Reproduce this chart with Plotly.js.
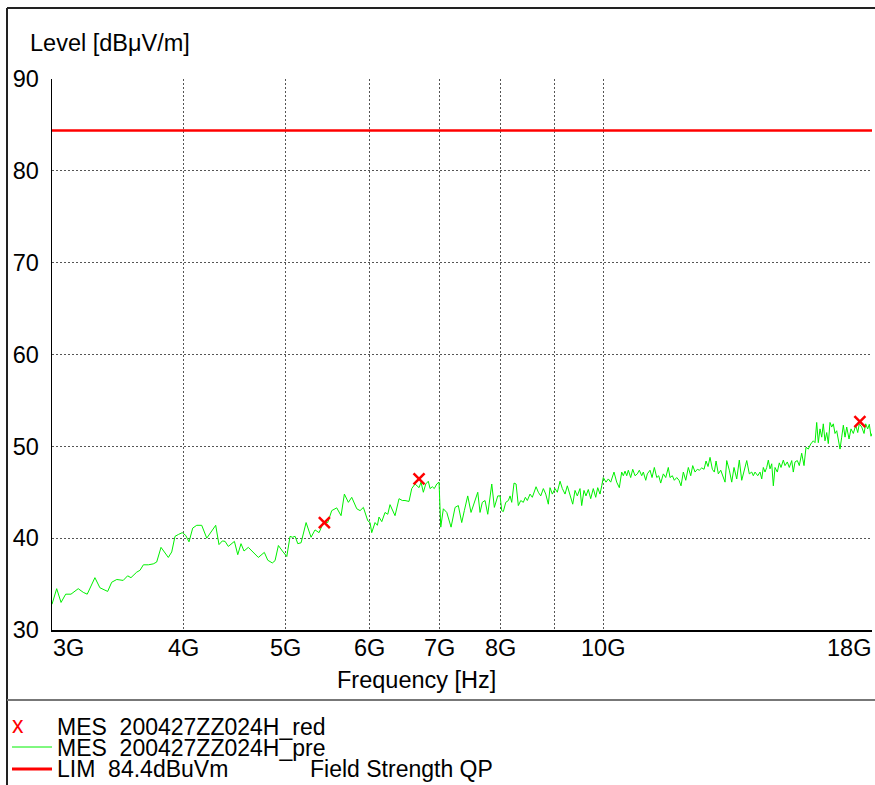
<!DOCTYPE html>
<html>
<head>
<meta charset="utf-8">
<script src="https://cdn.plot.ly/plotly-3.0.1.min.js"></script>
<style>html,body{margin:0;padding:0;background:#fff;}#chart{width:875px;height:785px;}</style>
</head>
<body>
<div id="chart"></div>
<script>
// ---- data (frequency in GHz, level in dBµV/m) ----
const preFreq = [3.000,3.031,3.060,3.091,3.127,3.177,3.212,3.240,3.295,3.331,3.388,3.418,3.456,3.505,3.539,3.565,3.610,3.636,3.663,3.703,3.743,3.771,3.807,3.868,3.897,3.925,3.954,3.988,4.018,4.047,4.080,4.116,4.161,4.207,4.290,4.321,4.353,4.379,4.410,4.469,4.502,4.534,4.564,4.607,4.709,4.771,4.807,4.855,4.884,4.920,4.963,5.011,5.047,5.073,5.103,5.133,5.170,5.196,5.227,5.284,5.330,5.377,5.428,5.480,5.528,5.589,5.642,5.683,5.733,5.775,5.839,5.881,5.924,5.981,6.011,6.033,6.077,6.108,6.130,6.167,6.211,6.248,6.279,6.348,6.404,6.450,6.488,6.545,6.584,6.632,6.690,6.719,6.753,6.789,6.827,6.853,6.887,6.917,6.954,6.989,7.015,7.055,7.108,7.175,7.238,7.290,7.344,7.386,7.441,7.495,7.549,7.606,7.644,7.682,7.728,7.774,7.842,7.887,7.946,7.986,8.015,8.043,8.086,8.132,8.162,8.192,8.233,8.270,8.311,8.355,8.402,8.439,8.476,8.526,8.569,8.639,8.682,8.728,8.778,8.824,8.874,8.907,8.952,9.005,9.050,9.104,9.150,9.204,9.250,9.305,9.360,9.407,9.454,9.510,9.545,9.593,9.635,9.684,9.735,9.790,9.842,9.885,9.935,9.972,10.007,10.066,10.117,10.170,10.243,10.304,10.363,10.417,10.454,10.493,10.532,10.569,10.624,10.671,10.725,10.779,10.826,10.883,10.921,10.979,11.017,11.082,11.131,11.187,11.246,11.295,11.344,11.409,11.469,11.534,11.577,11.636,11.687,11.748,11.807,11.859,11.919,11.982,12.050,12.113,12.166,12.228,12.289,12.343,12.408,12.471,12.525,12.580,12.635,12.699,12.754,12.802,12.866,12.934,12.990,13.056,13.104,13.179,13.248,13.315,13.394,13.470,13.541,13.609,13.690,13.767,13.840,13.888,13.940,14.023,14.093,14.146,14.195,14.248,14.301,14.351,14.404,14.458,14.509,14.563,14.636,14.700,14.755,14.829,14.884,14.959,15.025,15.104,15.156,15.213,15.290,15.356,15.437,15.515,15.583,15.661,15.744,15.833,15.892,15.951,16.007,16.067,16.127,16.183,16.243,16.304,16.361,16.422,16.483,16.541,16.602,16.664,16.723,16.785,16.847,16.907,16.970,17.033,17.119,17.193,17.280,17.371,17.447,17.508,17.600,17.689,17.754,17.832,17.894,17.961,18.000];
const preLevel = [32.8,34.5,33.0,33.9,33.9,34.5,34.1,33.9,35.7,34.6,34.2,35.2,35.5,35.4,35.9,35.7,36.3,36.5,37.1,37.1,37.2,37.4,39.0,37.9,38.5,40.2,40.4,40.6,40.3,39.6,41.1,41.4,41.4,40.0,41.4,39.3,39.7,39.65,39.1,39.65,38.2,39.4,38.6,39.0,37.9,38.45,37.6,37.3,37.55,39.2,38.6,38.0,40.2,40.1,40.2,39.4,39.5,40.45,41.7,40.1,40.9,40.6,41.7,41.7,43.0,43.3,42.45,44.8,43.9,44.45,43.2,43.0,43.35,41.9,41.7,40.6,41.7,41.4,42.3,41.8,42.8,42.6,43.65,42.45,44.3,44.1,44.1,44.0,45.4,45.9,45.5,46.1,45.0,45.9,46.2,45.4,45.6,45.4,45.9,46.1,41.2,43.2,42.8,41.2,43.35,43.55,41.7,43.0,44.6,42.8,43.8,45.0,42.8,43.9,44.1,42.6,45.9,43.35,44.6,44.6,43.0,42.9,43.9,44.1,44.6,43.9,46.0,45.9,43.55,44.1,43.9,44.45,44.1,44.8,44.45,45.6,45.0,44.6,45.4,44.8,43.7,45.5,44.8,45.4,45.0,46.2,45.4,44.8,45.7,44.6,43.7,45.2,44.6,45.4,43.55,45.2,44.6,45.3,44.3,45.4,44.45,45.5,44.8,45.7,46.6,46.1,46.45,46.1,47.2,46.1,45.5,47.2,46.8,47.3,46.8,47.4,46.6,47.5,46.8,47.0,47.4,46.8,47.2,46.3,47.0,47.4,46.6,47.7,46.6,46.8,46.0,47.0,46.6,47.7,46.6,46.8,46.3,46.6,46.3,45.7,47.2,46.3,47.7,46.8,47.9,47.2,47.5,47.4,47.65,47.5,48.4,47.8,48.8,47.5,47.2,48.4,47.0,47.4,46.8,46.1,48.45,47.4,46.1,47.7,46.45,48.5,46.3,47.4,48.45,47.0,47.2,46.8,47.2,46.8,47.2,46.45,47.7,47.2,47.7,48.5,47.55,48.1,45.7,47.7,47.2,48.2,47.7,48.5,47.9,48.3,47.7,48.45,47.2,48.3,48.45,47.9,49.25,47.9,49.9,49.7,50.25,50.6,50.4,52.6,50.4,51.9,51.0,52.45,50.6,51.5,50.3,52.6,52.1,52.45,51.4,51.7,50.6,49.7,51.0,52.3,51.0,52.1,50.8,51.9,51.4,52.3,51.5,52.45,52.1,51.4,52.45,51.9,52.4,51.1,51.4];

const redFreq  = [5.44, 6.69, 17.53];
const redLevel = [41.7, 46.45, 52.7];

const limitLevel = 84.4;
const freqRange  = [3, 18];
const levelRange = [30, 90];

const gridFreqs   = [3, 4, 5, 6, 7, 8, 9, 10, 18];
const labelFreqs  = [3, 4, 5, 6, 7, 8, 10, 18];
const labelTexts  = ["3G", "4G", "5G", "6G", "7G", "8G", "10G", "18G"];
const levelTicks  = [30, 40, 50, 60, 70, 80, 90];

const legendTexts = ["MES\u00a0\u00a0200427ZZ024H_red", "MES\u00a0\u00a0200427ZZ024H_pre", "LIM\u00a0\u00a084.4dBuVm"];
const limitNote = "Field Strength QP";
const yTitle = "Level [dBμV/m]";
const xTitle = "Frequency [Hz]";

// ---- layout helpers (pixel -> paper) ----
const L = 52, R = 872, T = 79, B = 630;
const px = x => (x - L) / (R - L);
const py = y => (B - y) / (B - T);
const FONT = "Liberation Sans, Arial, sans-serif";
const FS = 23.5, LFS = 23;

const traces = [
  { x: preFreq, y: preLevel, type: "scatter", mode: "lines",
    line: { color: "#00f000", width: 1 }, hoverinfo: "skip" },
  { x: freqRange, y: [limitLevel, limitLevel], type: "scatter", mode: "lines",
    line: { color: "#ff0000", width: 2.5 }, hoverinfo: "skip" },
  { x: redFreq, y: redLevel, type: "scatter", mode: "markers",
    marker: { symbol: "x-thin", size: 11, line: { color: "#ff0000", width: 2.5 } }, hoverinfo: "skip" }
];

const annotations = [];
labelFreqs.forEach((f, i) => {
  annotations.push({
    text: labelTexts[i], xref: "x", yref: "paper", x: Math.log10(f), y: py(648),
    xanchor: i === 0 ? "left" : (i === labelFreqs.length - 1 ? "right" : "center"),
    yanchor: "middle", showarrow: false, borderpad: 0, font: { family: FONT, size: FS, color: "#000" }
  });
});
annotations.push({ text: yTitle, xref: "paper", yref: "paper", x: px(28), y: py(43),
  xanchor: "left", yanchor: "middle", showarrow: false, font: { family: FONT, size: FS, color: "#000" } });
annotations.push({ text: xTitle, xref: "paper", yref: "paper", x: px(416), y: py(680),
  xanchor: "center", yanchor: "middle", showarrow: false, font: { family: FONT, size: FS, color: "#000" } });
const rowY = [727, 748, 769];
legendTexts.forEach((t, i) => {
  annotations.push({ text: t, xref: "paper", yref: "paper", x: px(56), y: py(rowY[i]),
    xanchor: "left", yanchor: "middle", showarrow: false, borderpad: 0, font: { family: FONT, size: LFS, color: "#000" } });
});
annotations.push({ text: limitNote, xref: "paper", yref: "paper", x: px(309), y: py(rowY[2]),
  xanchor: "left", yanchor: "middle", showarrow: false, borderpad: 0, font: { family: FONT, size: LFS, color: "#000" } });
annotations.push({ text: "x", xref: "paper", yref: "paper", x: px(18), y: py(rowY[0] - 2),
  xanchor: "center", yanchor: "middle", showarrow: false, borderpad: 0, font: { family: FONT, size: LFS, color: "#ff0000" } });

const shapes = [
  { type: "line", xref: "paper", yref: "paper", x0: px(7), x1: px(880), y0: py(8), y1: py(8), line: { color: "#222", width: 2 } },
  { type: "line", xref: "paper", yref: "paper", x0: px(7), x1: px(7), y0: py(8), y1: py(800), line: { color: "#222", width: 2 } },
  { type: "line", xref: "paper", yref: "paper", x0: px(7), x1: px(880), y0: py(700), y1: py(700), line: { color: "#777", width: 2 } },
  { type: "line", xref: "paper", yref: "paper", x0: px(12), x1: px(52), y0: py(747), y1: py(747), line: { color: "#00f000", width: 1 } },
  { type: "line", xref: "paper", yref: "paper", x0: px(12), x1: px(52), y0: py(769), y1: py(769), line: { color: "#ff0000", width: 3 } }
];

const layout = {
  width: 875, height: 785,
  margin: { l: L, r: 875 - R, t: T, b: 785 - B, pad: 0 },
  paper_bgcolor: "#fff", plot_bgcolor: "#fff",
  showlegend: false,
  font: { family: FONT, size: FS, color: "#000" },
  xaxis: {
    type: "log", range: freqRange.map(Math.log10),
    tickmode: "array", tickvals: gridFreqs, showticklabels: false, ticks: "",
    showgrid: true, gridcolor: "#555", gridwidth: 1, griddash: "2px,2px",
    showline: true, linecolor: "#000", linewidth: 1.5, zeroline: false, fixedrange: true
  },
  yaxis: {
    range: levelRange, tickmode: "array", tickvals: levelTicks, ticks: "",
    tickfont: { family: FONT, size: FS, color: "#000" }, ticklabelstandoff: 7,
    showgrid: true, gridcolor: "#555", gridwidth: 1, griddash: "2px,2px",
    showline: true, linecolor: "#000", linewidth: 1.5, zeroline: false, fixedrange: true
  },
  annotations: annotations,
  shapes: shapes
};

Plotly.newPlot("chart", traces, layout, { displayModeBar: false, staticPlot: true });
</script>
</body>
</html>
